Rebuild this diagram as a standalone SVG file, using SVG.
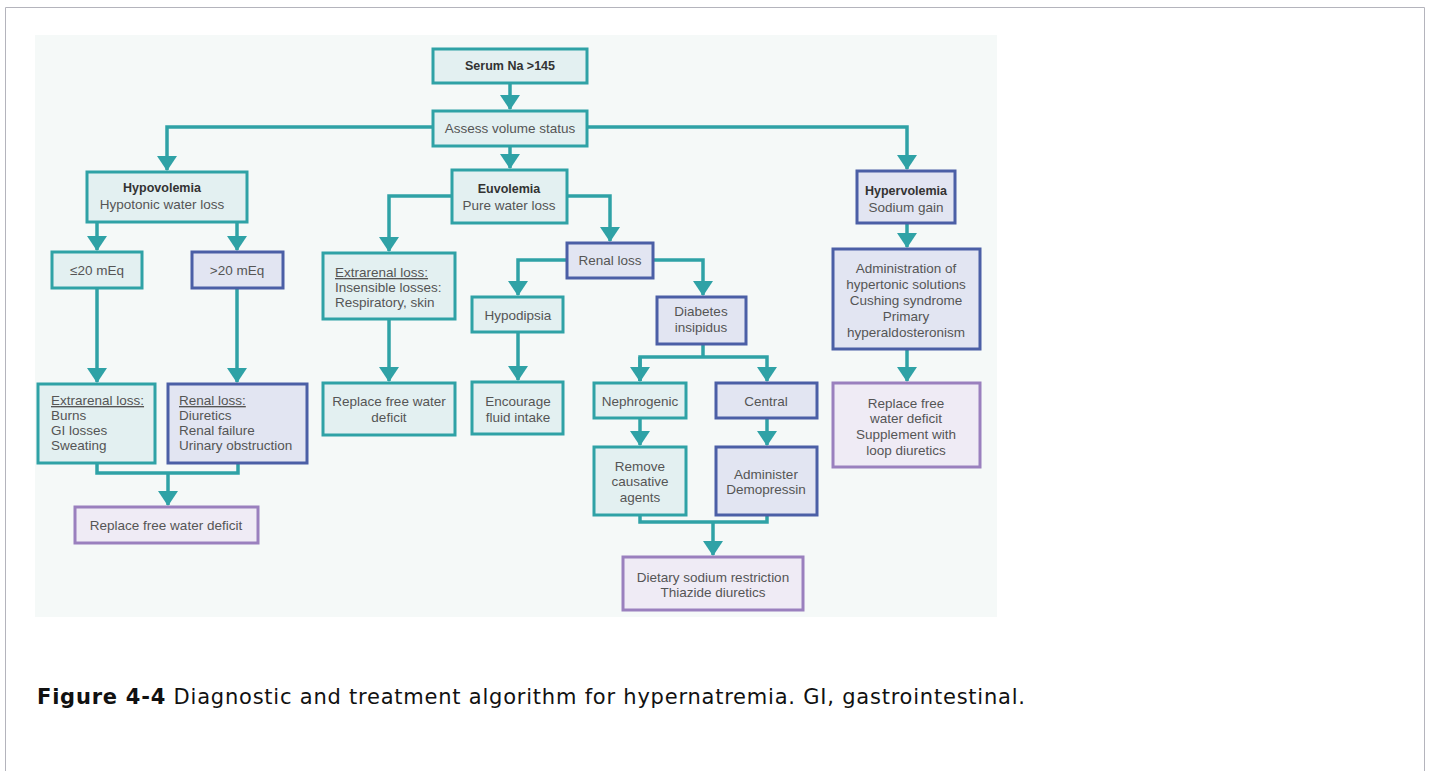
<svg xmlns="http://www.w3.org/2000/svg" width="1432" height="771" viewBox="0 0 1432 771">
  <defs>
    <marker id="arrow" markerUnits="userSpaceOnUse" markerWidth="15" markerHeight="20" viewBox="0 0 15 20" refX="14" refY="10" orient="auto">
      <path d="M0,0 L15,10 L0,20 z" fill="#2fa2a6"/>
    </marker>
    <style>
      .teal { fill: #e3f0f1; stroke: #2fa2a6; stroke-width: 3; }
      .blue { fill: #e2e5f2; stroke: #4b5fa6; stroke-width: 3; }
      .purple { fill: #efebf5; stroke: #9a80be; stroke-width: 3; }
      .t { font-family: "Liberation Sans", Arial, sans-serif; font-size: 13.5px; fill: #555; }
      .c { text-anchor: middle; }
      .b { font-weight: bold; fill: #333; font-size: 12.5px; }
      .u { text-decoration: underline; }
      .conn path { fill: none; stroke: #2fa2a6; stroke-width: 3.5; }
      .cap { font-family: "DejaVu Sans", Verdana, sans-serif; font-size: 21px; fill: #111; }
    </style>
  </defs>

  <!-- page frame -->
  <rect x="0" y="0" width="1432" height="771" fill="#ffffff"/>
  <path d="M5.5,771 V7.5 H1424.5 V771" fill="none" stroke="#b4b4bc" stroke-width="1"/>

  <!-- figure panel -->
  <rect x="35" y="35" width="962" height="582" fill="#f5f9f8"/>

  <!-- connectors -->
  <g class="conn">
    <path d="M510,83 V109" marker-end="url(#arrow)"/>
    <path d="M433,127 H167 V170" marker-end="url(#arrow)"/>
    <path d="M587,127 H907 V169" marker-end="url(#arrow)"/>
    <path d="M510,146 V168" marker-end="url(#arrow)"/>

    <path d="M97,222 V250" marker-end="url(#arrow)"/>
    <path d="M237,222 V250" marker-end="url(#arrow)"/>
    <path d="M97,288 V382" marker-end="url(#arrow)"/>
    <path d="M237,288 V382" marker-end="url(#arrow)"/>
    <path d="M97,463 V473 H238 V463"/>
    <path d="M168,473 V505" marker-end="url(#arrow)"/>

    <path d="M452,196 H389 V251" marker-end="url(#arrow)"/>
    <path d="M389,319 V381" marker-end="url(#arrow)"/>
    <path d="M567,196 H610 V241" marker-end="url(#arrow)"/>
    <path d="M567,260 H518 V295" marker-end="url(#arrow)"/>
    <path d="M518,332 V380" marker-end="url(#arrow)"/>
    <path d="M653,260 H703 V295" marker-end="url(#arrow)"/>
    <path d="M703,344 V357"/>
    <path d="M640,381 V357 H767 V381" marker-end="url(#arrow)"/>
    <path d="M640,357 V381" marker-end="url(#arrow)"/>
    <path d="M640,418 V445" marker-end="url(#arrow)"/>
    <path d="M767,418 V445" marker-end="url(#arrow)"/>
    <path d="M640,515 V522 H767 V515"/>
    <path d="M713,522 V555" marker-end="url(#arrow)"/>

    <path d="M907,223 V247" marker-end="url(#arrow)"/>
    <path d="M907,349 V381" marker-end="url(#arrow)"/>
  </g>

  <!-- nodes -->
  <g id="serum">
    <rect class="teal" x="433" y="49" width="154" height="34"/>
    <text class="t c b" x="510" y="70">Serum Na &gt;145</text>
  </g>
  <g id="assess">
    <rect class="teal" x="433" y="111" width="154" height="35"/>
    <text class="t c" x="510" y="133">Assess volume status</text>
  </g>

  <g id="hypovolemia">
    <rect class="teal" x="87" y="172" width="160" height="50"/>
    <text class="t c b" x="162" y="192">Hypovolemia</text>
    <text class="t c" x="162" y="209">Hypotonic water loss</text>
  </g>
  <g id="le20">
    <rect class="teal" x="52" y="252" width="90" height="36"/>
    <text class="t c" x="97" y="275">≤20 mEq</text>
  </g>
  <g id="gt20">
    <rect class="blue" x="192" y="252" width="91" height="36"/>
    <text class="t c" x="237" y="275">&gt;20 mEq</text>
  </g>
  <g id="hypo-extrarenal">
    <rect class="teal" x="38" y="384" width="117" height="79"/>
    <text class="t u" x="51" y="405">Extrarenal loss:</text>
    <text class="t" x="51" y="420">Burns</text>
    <text class="t" x="51" y="435">GI losses</text>
    <text class="t" x="51" y="450">Sweating</text>
  </g>
  <g id="hypo-renal">
    <rect class="blue" x="168" y="384" width="139" height="79"/>
    <text class="t u" x="179" y="405">Renal loss:</text>
    <text class="t" x="179" y="420">Diuretics</text>
    <text class="t" x="179" y="435">Renal failure</text>
    <text class="t" x="179" y="450">Urinary obstruction</text>
  </g>
  <g id="hypo-replace">
    <rect class="purple" x="75" y="507" width="183" height="36"/>
    <text class="t c" x="166" y="530">Replace free water deficit</text>
  </g>

  <g id="euvolemia">
    <rect class="teal" x="452" y="170" width="115" height="53"/>
    <text class="t c b" x="509" y="193">Euvolemia</text>
    <text class="t c" x="509" y="210">Pure water loss</text>
  </g>
  <g id="euvo-extrarenal">
    <rect class="teal" x="323" y="253" width="132" height="66"/>
    <text class="t u" x="335" y="277">Extrarenal loss:</text>
    <text class="t" x="335" y="292">Insensible losses:</text>
    <text class="t" x="335" y="307">Respiratory, skin</text>
  </g>
  <g id="euvo-replace">
    <rect class="teal" x="323" y="383" width="132" height="52"/>
    <text class="t c" x="389" y="406">Replace free water</text>
    <text class="t c" x="389" y="422">deficit</text>
  </g>
  <g id="renal-loss">
    <rect class="blue" x="567" y="243" width="86" height="35"/>
    <text class="t c" x="610" y="265">Renal loss</text>
  </g>
  <g id="hypodipsia">
    <rect class="teal" x="472" y="297" width="91" height="35"/>
    <text class="t c" x="518" y="320">Hypodipsia</text>
  </g>
  <g id="encourage">
    <rect class="teal" x="472" y="382" width="91" height="52"/>
    <text class="t c" x="518" y="406">Encourage</text>
    <text class="t c" x="518" y="422">fluid intake</text>
  </g>
  <g id="diabetes">
    <rect class="blue" x="657" y="297" width="89" height="47"/>
    <text class="t c" x="701" y="316">Diabetes</text>
    <text class="t c" x="701" y="332">insipidus</text>
  </g>
  <g id="nephrogenic">
    <rect class="teal" x="594" y="383" width="92" height="35"/>
    <text class="t c" x="640" y="406">Nephrogenic</text>
  </g>
  <g id="central">
    <rect class="blue" x="716" y="383" width="101" height="35"/>
    <text class="t c" x="766" y="406">Central</text>
  </g>
  <g id="remove">
    <rect class="teal" x="594" y="447" width="92" height="68"/>
    <text class="t c" x="640" y="471">Remove</text>
    <text class="t c" x="640" y="486">causative</text>
    <text class="t c" x="640" y="502">agents</text>
  </g>
  <g id="administer">
    <rect class="blue" x="716" y="447" width="101" height="68"/>
    <text class="t c" x="766" y="479">Administer</text>
    <text class="t c" x="766" y="494">Demopressin</text>
  </g>
  <g id="dietary">
    <rect class="purple" x="623" y="557" width="180" height="53"/>
    <text class="t c" x="713" y="582">Dietary sodium restriction</text>
    <text class="t c" x="713" y="597">Thiazide diuretics</text>
  </g>

  <g id="hypervolemia">
    <rect class="blue" x="857" y="171" width="98" height="52"/>
    <text class="t c b" x="906" y="195">Hypervolemia</text>
    <text class="t c" x="906" y="212">Sodium gain</text>
  </g>
  <g id="hyper-causes">
    <rect class="blue" x="833" y="249" width="147" height="100"/>
    <text class="t c" x="906" y="273">Administration of</text>
    <text class="t c" x="906" y="289">hypertonic solutions</text>
    <text class="t c" x="906" y="305">Cushing syndrome</text>
    <text class="t c" x="906" y="321">Primary</text>
    <text class="t c" x="906" y="337">hyperaldosteronism</text>
  </g>
  <g id="hyper-replace">
    <rect class="purple" x="833" y="383" width="147" height="84"/>
    <text class="t c" x="906" y="408">Replace free</text>
    <text class="t c" x="906" y="423">water deficit</text>
    <text class="t c" x="906" y="439">Supplement with</text>
    <text class="t c" x="906" y="455">loop diuretics</text>
  </g>

  <!-- caption -->
  <text class="cap" x="37" y="704" textLength="988" lengthAdjust="spacing"><tspan font-weight="bold">Figure 4-4</tspan> Diagnostic and treatment algorithm for hypernatremia. GI, gastrointestinal.</text>
</svg>
